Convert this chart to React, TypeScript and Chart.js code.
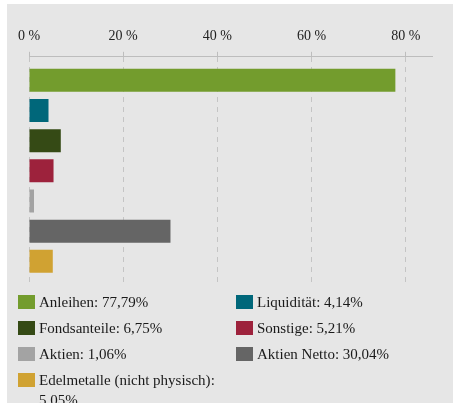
import React, { useEffect, useRef } from "react";
import { Chart, registerables } from "chart.js";

Chart.register(...registerables);

const categories = [
  "Anleihen",
  "Liquidität",
  "Fondsanteile",
  "Sonstige",
  "Aktien",
  "Aktien Netto",
  "Edelmetalle (nicht physisch)",
];
const values = [77.79, 4.14, 6.75, 5.21, 1.06, 30.04, 5.05];
const colors = ["#739c2d", "#00677a", "#354a15", "#9d223c", "#a3a3a3", "#656565", "#d0a232"];
const xTicks = [0, 20, 40, 60, 80];

const fmt = (v: number) => v.toFixed(2).replace(".", ",") + "%";

export default function App() {
  const ref = useRef<HTMLCanvasElement | null>(null);

  useEffect(() => {
    if (!ref.current) return;
    const chart = new Chart(ref.current, {
      type: "bar",
      data: {
        labels: categories,
        datasets: [
          {
            data: values.map((v, i) => ({ x: v, y: i })) as any,
            backgroundColor: colors,
            barPercentage: 0.762,
            categoryPercentage: 1,
          },
        ],
      },
      options: {
        indexAxis: "y",
        responsive: false,
        animation: false,
        layout: { padding: { top: 17, left: 22, right: 21, bottom: 10 } },
        plugins: { legend: { display: false }, tooltip: { enabled: false } },
        scales: {
          x: {
            type: "linear",
            position: "top",
            min: 0,
            max: Math.max(...values) * 1.1,
            afterBuildTicks: (scale: any) => {
              scale.ticks = xTicks.map((v) => ({ value: v }));
            },
            ticks: {
              padding: 7,
              color: "#222",
              font: { family: "'Liberation Serif', serif", size: 14 },
              callback: (v: any) => `${v} %`,
            },
            grid: {
              color: "#c4c4c4",
              lineWidth: 1,
              tickLength: 5,
              tickColor: "#bdbdbd",
              tickBorderDash: [],
            },
            border: { display: true, color: "#bdbdbd", width: 1, dash: [5, 5] },
          },
          y: {
            type: "linear",
            min: -0.78,
            max: 6.75,
            reverse: true,
            offset: false,
            display: false,
            afterBuildTicks: (scale: any) => {
              scale.ticks = categories.map((_, i) => ({ value: i }));
            },
          },
        },
      },
    });
    return () => chart.destroy();
  }, []);

  return (
    <div
      style={{
        position: "fixed",
        left: 0,
        top: 0,
        width: 453,
        height: 403,
        background: "#ffffff",
        overflow: "hidden",
      }}
    >
      <div
        style={{
          position: "absolute",
          left: 7,
          top: 4,
          width: 446,
          height: 399,
          background: "#e6e6e6",
        }}
      >
        <canvas
          ref={ref}
          width={446}
          height={290}
          style={{ position: "absolute", left: 0, top: 0, width: 446, height: 290 }}
        />
        <div
          style={{
            position: "absolute",
            left: 11,
            top: 288,
            display: "grid",
            gridTemplateColumns: "218px 218px",
            rowGap: 6,
          }}
        >
          {categories.map((c, i) => (
            <div key={c} style={{ display: "flex", alignItems: "flex-start" }}>
              <div
                style={{
                  width: 17,
                  height: 14,
                  marginTop: 3,
                  marginRight: 4,
                  flexShrink: 0,
                  background: colors[i],
                }}
              />
              <div
                style={{
                  font: "15px 'Liberation Serif', serif",
                  lineHeight: "20px",
                  color: "#1a1a1a",
                  maxWidth: 190,
                }}
              >
                {c}: {fmt(values[i])}
              </div>
            </div>
          ))}
        </div>
      </div>
    </div>
  );
}
